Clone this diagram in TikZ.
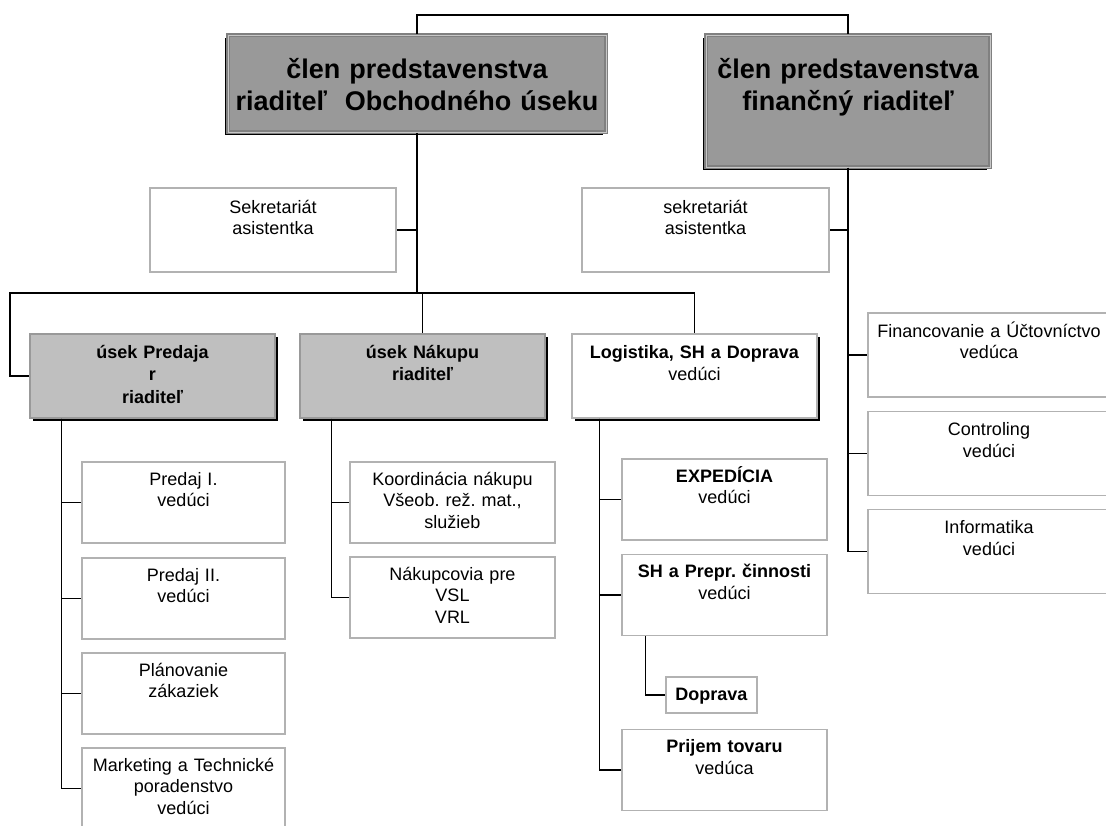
\documentclass[tikz,border=0pt]{standalone}
\usepackage{fontspec}
\setmainfont{Liberation Sans}
\usepackage{tikz}
\usetikzlibrary{shadows}

\begin{document}
\begin{tikzpicture}[x=1pt,y=-1pt]
 \tikzstyle{every node}=[align=center,inner sep=0pt]
 \tikzstyle{head}=[draw=black!50,double=black!22,line width=1.6pt,double distance=0.9pt,
   fill=black!40,font=\fontsize{27}{32}\selectfont\bfseries,text height=43pt,
   drop shadow={shadow xshift=-3pt,shadow yshift=-3pt,fill=black,opacity=1}]
 \tikzstyle{unit}=[draw=black!30,line width=1.3pt,fill=white,font=\fontsize{18}{21.5}\selectfont,
   text width=203pt,text height=23pt,text depth=58pt]
 \tikzstyle{dept}=[unit,draw=black!40,fill=black!25,font=\fontsize{18}{22.5}\selectfont\bfseries,
   text width=245pt,text height=24pt,text depth=60pt,
   drop shadow={shadow xshift=3pt,shadow yshift=-3pt,fill=black,opacity=1}]
 \tikzstyle{link}=[draw,line width=1.4pt]
 \useasboundingbox (0,0) rectangle (1106,825);
 % board
 \path
 (417,83.5) node[head,text width=378pt,text depth=54pt] (A) {člen predstavenstva\\riaditeľ\ \ Obchodného úseku}
 (848,101)  node[head,text width=284pt,text depth=89pt] (B) {člen predstavenstva\\finančný riaditeľ}
 (273,230)  node[unit,text width=246pt,text height=25pt,text depth=59pt] (s1) {Sekretariát\\asistentka}
 (705.5,230) node[unit,text width=247pt,text height=25pt,text depth=59pt] (s2) {sekretariát\\asistentka}
 ;
 % divisions
 \path
 (152.5,376) node[dept] (pr) {úsek Predaja\\r\\riaditeľ}
 (422.5,376) node[dept] (nk) {úsek Nákupu\\riaditeľ}
 (694.5,376) node[dept,fill=white,draw=black!30,font=\fontsize{18}{22.5}\selectfont,drop shadow={opacity=0}] (lg)
   {\textbf{Logistika, SH a Doprava}\\vedúci}
 ;
 % sales
 \path
 (183.5,502.5) node[unit] (p1) {Predaj I.\\vedúci}
 ++(0,96)      node[unit] (p2) {Predaj II.\\vedúci}
 ++(0,95)      node[unit] (p3) {Plánovanie\\zákaziek}
 ++(0,95)      node[unit] (p4) {Marketing a Technické\\poradenstvo\\vedúci}
 ;
 % purchase
 \path
 (452.5,502.5) node[unit,text width=205pt] (k1) {Koordinácia nákupu\\Všeob.\ rež.\ mat.,\\služieb}
 ++(0,95)      node[unit,text width=205pt] (k2) {Nákupcovia pre\\VSL\\VRL}
 ;
 % logistics
 \path
 (724.5,499.5) node[unit,text width=205pt] (e1) {\textbf{EXPEDÍCIA}\\vedúci}
 ++(0,95.5)    node[unit,text width=205pt] (e2) {\textbf{SH a Prepr.\ činnosti}\\vedúci}
 ++(-13,100)   node[unit,text width=91pt,text height=23pt,text depth=13pt] (dop) {\textbf{Doprava}}
 ++(13,75)     node[unit,text width=205pt] (e3) {\textbf{Prijem tovaru}\\vedúca}
 ;
 % finance
 \path
 (989,355)  node[unit,text width=242pt,text height=24pt,text depth=60pt] (f1) {Financovanie a Účtovníctvo\\vedúca}
 ++(0,98.5) node[unit,text width=242pt,text height=24pt,text depth=60pt] (f2) {Controling\\vedúci}
 ++(0,98)   node[unit,text width=242pt,text height=24pt,text depth=60pt] (f3) {Informatika\\vedúci}
 ;
 \coordinate (top) at (417,15);
 \coordinate (bus) at (417,293);
 \coordinate (bl) at (10,293);
 \path[link]
 (A.north) -- (top) -| (B.north)
 (A.south) |- (s1.east)
 (A.south) -- (bus)
 (bus) -- (bl) |- (pr.west)
 (bl) -| (lg.north)
 (bus) -| (nk.north)
 (B.south) |- (s2.east)
 ([xshift=24pt]e2.south west) |- (dop.west)
 ;
 \foreach \n in {f1,f2,f3}
  \path[link] (B.south) |- (\n.west);
 \foreach \n in {p1,p2,p3,p4}
  \path[link] ([xshift=32pt]pr.south west) |- (\n.west);
 \foreach \n in {k1,k2}
  \path[link] ([xshift=32pt]nk.south west) |- (\n.west);
 \foreach \n in {e1,e2,e3}
  \path[link] ([xshift=28pt]lg.south west) |- (\n.west);
\end{tikzpicture}
\end{document}
